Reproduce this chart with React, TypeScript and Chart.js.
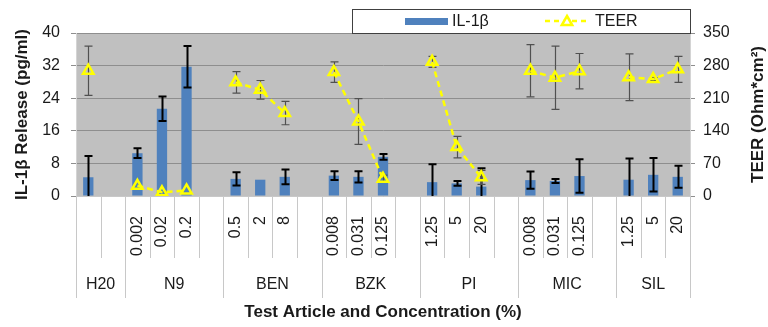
import React, { useEffect, useRef } from 'react';
import { Chart, registerables } from 'chart.js';

Chart.register(...registerables);

// ---- data ----
const concentrationLabels = ['', '', '0.002', '0.02', '0.2', '', '0.5', '2', '8', '', '0.008', '0.031', '0.125', '', '1.25', '5', '20', '', '0.008', '0.031', '0.125', '', '1.25', '5', '20'];
const groupNames = ['H20', 'N9', 'BEN', 'BZK', 'PI', 'MIC', 'SIL'];
const groupSizes = [2, 4, 4, 4, 4, 4, 3];
const il1bValues = [4.6, null, 10.5, 21.4, 31.7, null, 4.2, 4.0, 4.7, null, 5.0, 4.7, 9.6, null, 3.4, 3.1, 2.3, null, 3.9, 3.7, 4.9, null, 4.0, 5.2, 4.7];
const il1bErrors = [5.2, null, 1.2, 3.0, 5.1, null, 1.6, 0, 1.8, null, 1.1, 1.4, 0.7, null, 4.4, 0.6, 4.5, null, 2.1, 0.5, 4.1, null, 5.2, 4.1, 2.7];
const teerValues = [269, null, 22, 8, 12, null, 244, 228, 178, null, 266, 160, 37, null, 288, 105, 40, null, 269, 254, 268, null, 255, 251, 272];
const teerErrors = [53, null, 0, 0, 0, null, 23, 20, 25, null, 22, 49, 8, null, 12, 23, 15, null, 56, 68, 38, null, 50, 3, 28];
const leftTicks = [0, 8, 16, 24, 32, 40];
const rightTicks = [0, 70, 140, 210, 280, 350];

const FONT = "'Liberation Sans', Arial, sans-serif";
const TEXT = '#1a1a1a';

const plotBgPlugin = {
  id: 'plotBg',
  beforeDraw(chart: any) {
    const { ctx, chartArea: a } = chart;
    ctx.save();
    ctx.fillStyle = '#C0C0C0';
    ctx.fillRect(a.left, a.top, a.right - a.left, a.bottom - a.top);
    ctx.restore();
  },
};

function drawErrors(chart: any, index: number) {
  const ds = chart.data.datasets[index];
  if (!ds.errors) return;
  const meta = chart.getDatasetMeta(index);
  const scale = chart.scales[meta.yAxisID];
  const { ctx, chartArea: a } = chart;
  ctx.save();
  ctx.beginPath();
  ctx.rect(a.left, a.top - 2, a.right - a.left, a.bottom - a.top + 2);
  ctx.clip();
  ctx.strokeStyle = ds.errorColor;
  ctx.lineWidth = ds.errorWidth;
  ctx.setLineDash([]);
  ds.data.forEach((v: number | null, i: number) => {
    const e = ds.errors[i];
    if (v == null || !e) return;
    const el = meta.data[i];
    if (!el) return;
    const x = Math.round(el.x) + 0.5;
    const yt = scale.getPixelForValue(v + e);
    const yb = scale.getPixelForValue(v - e);
    ctx.beginPath();
    ctx.moveTo(x, yt);
    ctx.lineTo(x, yb);
    ctx.moveTo(x - 4, yt);
    ctx.lineTo(x + 4, yt);
    ctx.moveTo(x - 4, yb);
    ctx.lineTo(x + 4, yb);
    ctx.stroke();
  });
  ctx.restore();
}

const errorBarPlugin = {
  id: 'errorBars',
  afterDatasetDraw(chart: any, args: any) {
    const ds = chart.data.datasets[args.index];
    if (ds.errorPhase === 'after') drawErrors(chart, args.index);
  },
  beforeDatasetDraw(chart: any, args: any) {
    const ds = chart.data.datasets[args.index];
    if (ds.errorPhase === 'before') drawErrors(chart, args.index);
  },
};

const categoryAreaPlugin = {
  id: 'categoryArea',
  afterDraw(chart: any) {
    const { ctx } = chart;
    const xs = chart.scales.x;
    const top = xs.top;
    const n = concentrationLabels.length;
    const bounds: number[] = [0];
    groupSizes.forEach((s) => bounds.push(bounds[bounds.length - 1] + s));
    ctx.save();
    ctx.strokeStyle = '#C8C8C8';
    ctx.lineWidth = 1;
    for (let k = 0; k <= n; k++) {
      const px = Math.round(xs.getPixelForValue(k - 0.5)) + 0.5;
      const isGroup = bounds.includes(k);
      ctx.beginPath();
      ctx.moveTo(px, top);
      ctx.lineTo(px, top + (isGroup ? 102 : 62));
      ctx.stroke();
    }
    ctx.fillStyle = TEXT;
    ctx.font = `16px ${FONT}`;
    ctx.textAlign = 'center';
    ctx.textBaseline = 'middle';
    groupNames.forEach((g, i) => {
      const x0 = xs.getPixelForValue(bounds[i] - 0.5);
      const x1 = xs.getPixelForValue(bounds[i + 1] - 0.5);
      ctx.fillText(g, (x0 + x1) / 2, top + 89);
    });
    ctx.restore();
  },
};

const extrasPlugin = {
  id: 'extras',
  afterDraw(chart: any) {
    const { ctx, chartArea: a } = chart;
    // right axis title (reads bottom to top)
    ctx.save();
    ctx.fillStyle = TEXT;
    ctx.font = `bold 17px ${FONT}`;
    ctx.textAlign = 'center';
    ctx.textBaseline = 'middle';
    ctx.translate(758, (a.top + a.bottom) / 2);
    ctx.rotate(-Math.PI / 2);
    ctx.fillText('TEER (Ohm*cm²)', 0, 0);
    ctx.restore();

    // legend box
    const bx = 352, by = 9, bw = a.right - 352, bh = 24;
    ctx.save();
    ctx.fillStyle = '#FFFFFF';
    ctx.fillRect(bx, by, bw, bh);
    ctx.strokeStyle = '#404040';
    ctx.lineWidth = 1;
    ctx.strokeRect(bx + 0.5, by + 0.5, bw, bh);
    const bar = chart.data.datasets[1];
    const line = chart.data.datasets[0];
    const cy = by + bh / 2;
    ctx.fillStyle = bar.backgroundColor;
    ctx.fillRect(405, cy - 3, 43, 7);
    ctx.fillStyle = TEXT;
    ctx.font = `16px ${FONT}`;
    ctx.textAlign = 'left';
    ctx.textBaseline = 'middle';
    ctx.fillText(bar.label, 452, cy + 1);
    ctx.strokeStyle = line.borderColor;
    ctx.lineWidth = 2.5;
    ctx.setLineDash([5, 4]);
    ctx.beginPath();
    ctx.moveTo(545, cy);
    ctx.lineTo(590, cy);
    ctx.stroke();
    ctx.setLineDash([]);
    ctx.fillStyle = '#FFFFFF';
    ctx.beginPath();
    const r = 6, tx = 567, ty = cy + 1;
    ctx.moveTo(tx, ty - r);
    ctx.lineTo(tx + r * Math.sin((2 * Math.PI) / 3), ty - r * Math.cos((2 * Math.PI) / 3));
    ctx.lineTo(tx + r * Math.sin((4 * Math.PI) / 3), ty - r * Math.cos((4 * Math.PI) / 3));
    ctx.closePath();
    ctx.fill();
    ctx.stroke();
    ctx.fillStyle = TEXT;
    ctx.fillText(line.label, 595, cy + 1);
    ctx.restore();
  },
};

export default function App() {
  const canvasRef = useRef<HTMLCanvasElement | null>(null);

  useEffect(() => {
    document.body.style.margin = '0';
    const canvas = canvasRef.current;
    if (!canvas) return;
    Chart.defaults.font.family = FONT;
    const chart = new Chart(canvas, {
      type: 'bar',
      data: {
        labels: concentrationLabels,
        datasets: [
          {
            type: 'line',
            label: 'TEER',
            data: teerValues,
            yAxisID: 'y1',
            borderColor: '#FFFF00',
            borderWidth: 2.5,
            borderDash: [6, 4],
            pointStyle: 'triangle',
            pointRadius: 6,
            pointBorderWidth: 2.5,
            pointBorderColor: '#FFFF00',
            pointBackgroundColor: 'rgba(0,0,0,0)',
            spanGaps: false,
            order: 0,
            errors: teerErrors,
            errorColor: '#505050',
            errorWidth: 1.2,
            errorPhase: 'before',
          } as any,
          {
            type: 'bar',
            label: 'IL-1β',
            data: il1bValues,
            yAxisID: 'y',
            backgroundColor: '#4F81BD',
            barPercentage: 0.42,
            categoryPercentage: 1,
            order: 1,
            errors: il1bErrors,
            errorColor: '#000000',
            errorWidth: 2,
            errorPhase: 'after',
          } as any,
        ],
      },
      options: {
        animation: false,
        responsive: false,
        devicePixelRatio: 1,
        layout: { padding: { top: 33, left: 0, right: 0, bottom: 0 } },
        plugins: { legend: { display: false }, tooltip: { enabled: false } },
        scales: {
          x: {
            offset: true,
            grid: { display: false },
            border: { display: true, color: '#C8C8C8' },
            ticks: {
              autoSkip: false,
              minRotation: 90,
              maxRotation: 90,
              padding: 12,
              color: TEXT,
              font: { size: 16 },
            },
            title: {
              display: true,
              text: 'Test Article and Concentration (%)',
              color: TEXT,
              font: { size: 17, weight: 'bold' },
              padding: { top: 0, bottom: 4 },
            },
            afterFit: (s: any) => { s.height = 131; },
          } as any,
          y: {
            position: 'left',
            min: 0,
            max: 40,
            afterBuildTicks: (s: any) => { s.ticks = leftTicks.map((v) => ({ value: v })); },
            grid: { color: '#8E8E8E', tickLength: 5 },
            border: { display: true, color: '#D4D4D4' },
            ticks: { padding: 11, color: TEXT, font: { size: 16 } },
            title: {
              display: true,
              text: 'IL-1β Release (pg/ml)',
              color: TEXT,
              font: { size: 17, weight: 'bold' },
              padding: { top: 12, bottom: 0 },
            },
            afterFit: (s: any) => { s.width = 76; },
          } as any,
          y1: {
            position: 'right',
            min: 0,
            max: 350,
            afterBuildTicks: (s: any) => { s.ticks = rightTicks.map((v) => ({ value: v })); },
            grid: { drawOnChartArea: false, color: '#8E8E8E', tickLength: 5 },
            border: { display: true, color: '#D4D4D4' },
            ticks: { padding: 8, color: TEXT, font: { size: 16 } },
            afterFit: (s: any) => { s.width = 78; },
          } as any,
        },
      },
      plugins: [plotBgPlugin, errorBarPlugin, categoryAreaPlugin, extrasPlugin],
    });
    return () => chart.destroy();
  }, []);

  return (
    <div style={{ position: 'fixed', left: 0, top: 0, width: 768, height: 327, background: '#FFFFFF' }}>
      <canvas ref={canvasRef} width={768} height={327} />
    </div>
  );
}
